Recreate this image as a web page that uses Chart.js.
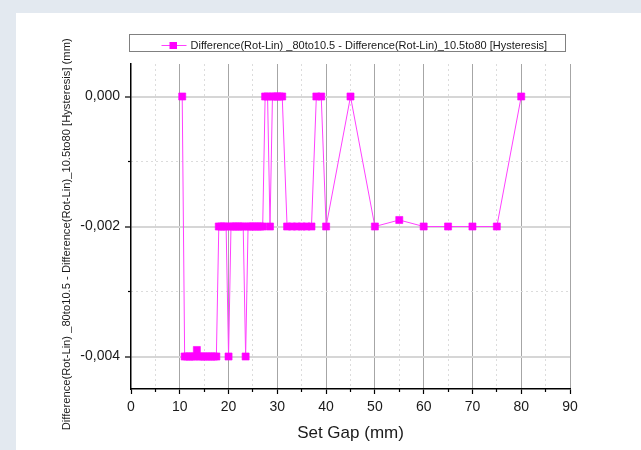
<!DOCTYPE html>
<html>
<head>
<meta charset="utf-8">
<title>Hysteresis</title>
<script src="https://cdn.jsdelivr.net/npm/chart.js@4"></script>
<style>
  html, body { margin: 0; padding: 0; background: #e3e9f0; }
  #panel { position: absolute; left: 16px; top: 13px; width: 625px; height: 437px; background: #fff; }
  canvas { display: block; }
</style>
</head>
<body>
<div id="panel"><canvas id="hyst" width="625" height="437"></canvas></div>
<script>
// set gap (mm) and hysteresis difference (mm)
const gap = [
  10.5, 11, 11.5, 12, 12.5, 13, 13.5, 14, 14.5, 15, 15.5, 16, 16.5, 17, 17.5,
  18, 18.5, 19, 19.5, 20, 20.5, 21, 21.5, 22, 22.5, 23, 23.5, 24, 24.5, 25,
  25.5, 26, 26.5, 27, 27.5, 28, 28.5, 29, 29.5, 30, 30.5, 31,
  32, 33, 34, 35, 36, 37, 38, 39, 40,
  45, 50, 55, 60, 65, 70, 75, 80
];
const hysteresis = [
  0, -0.004, -0.004, -0.004, -0.004, -0.004, -0.0039, -0.004, -0.004, -0.004, -0.004, -0.004, -0.004, -0.004, -0.004,
  -0.002, -0.002, -0.002, -0.002, -0.004, -0.002, -0.002, -0.002, -0.002, -0.002, -0.002, -0.004, -0.002, -0.002, -0.002,
  -0.002, -0.002, -0.002, -0.002, 0, 0, -0.002, 0, 0, 0, 0, 0,
  -0.002, -0.002, -0.002, -0.002, -0.002, -0.002, 0, 0, -0.002,
  0, -0.002, -0.0019, -0.002, -0.002, -0.002, -0.002, 0
];
const xMajor = [0, 10, 20, 30, 40, 50, 60, 70, 80, 90];
const xMinor = [5, 15, 25, 35, 45, 55, 65, 75, 85];
const yMajor = [-0.004, -0.002, 0];
const yMinor = [-0.003, -0.001];

const seriesLabel = 'Difference(Rot-Lin) _80to10.5 - Difference(Rot-Lin)_10.5to80 [Hysteresis]';
const yTitle = seriesLabel + ' (mm)';
const xTitle = 'Set Gap (mm)';

const FONT = "Arial, 'Liberation Sans', sans-serif";
Chart.defaults.font.family = FONT;
Chart.defaults.color = '#1a1a1a';

const fmt = v => v.toFixed(3).replace('.', ',');

// boxed legend like the Origin one: line + square marker + label
const legendBox = {
  id: 'legendBox',
  afterDraw(chart) {
    const { ctx, chartArea } = chart;
    const ds = chart.data.datasets[0];
    const left = chartArea.left - 1.5;
    const top = 21.5;
    const cy = 32.5;
    ctx.save();
    ctx.strokeStyle = '#808080';
    ctx.lineWidth = 1;
    ctx.strokeRect(left, top, chartArea.width - 3, 17);
    ctx.strokeStyle = ds.borderColor;
    ctx.beginPath();
    ctx.moveTo(left + 32, cy);
    ctx.lineTo(left + 57, cy);
    ctx.stroke();
    ctx.fillStyle = ds.pointBackgroundColor;
    ctx.fillRect(left + 40, cy - 3.5, 7.5, 7);
    ctx.fillStyle = '#1a1a1a';
    ctx.font = '11px ' + FONT;
    ctx.textBaseline = 'middle';
    ctx.fillText(ds.label, left + 61, cy);
    ctx.restore();
  }
};

new Chart(document.getElementById('hyst'), {
  type: 'scatter',
  data: {
    datasets: [{
      label: seriesLabel,
      data: gap.map((g, i) => ({ x: g, y: hysteresis[i] })),
      showLine: true,
      borderColor: '#ff40ff',
      borderWidth: 1,
      backgroundColor: '#ff00ff',
      pointStyle: 'rect',
      pointRadius: 5,
      pointBackgroundColor: '#ff00ff',
      pointBorderColor: '#ff00ff',
      pointBorderWidth: 0.6
    }]
  },
  options: {
    responsive: false,
    animation: false,
    layout: { padding: { top: 51, right: 71, left: 0, bottom: 0 } },
    plugins: {
      legend: { display: false },
      tooltip: { enabled: false }
    },
    scales: {
      x: {
        type: 'linear', axis: 'x', position: 'bottom', weight: 1,
        min: 0, max: 90,
        afterBuildTicks: s => { s.ticks = xMajor.map(v => ({ value: v })); },
        afterFit: s => { s.height = 61; },
        ticks: { font: { size: 14 }, padding: 5, autoSkip: false, maxRotation: 0 },
        grid: {
          color: c => (c.tick && c.tick.value === 0) ? 'rgba(0,0,0,0)' : '#a6a6a6',
          lineWidth: 1, tickColor: '#000', tickLength: 5, tickWidth: 1.2
        },
        border: { color: '#000', width: 1.5 },
        title: { display: true, text: xTitle, font: { size: 17 }, padding: { top: 0, bottom: 6 } }
      },
      xMinor: {
        type: 'linear', axis: 'x', position: 'bottom', weight: 0,
        min: 0, max: 90,
        afterBuildTicks: s => { s.ticks = xMinor.map(v => ({ value: v })); },
        afterFit: s => { s.height = 0; },
        ticks: { display: false },
        grid: { color: '#dcdcdc', lineWidth: 1, tickColor: '#000', tickLength: 3, tickWidth: 1.2 },
        border: { display: false, dash: [2, 3] }
      },
      y: {
        type: 'linear', axis: 'y', position: 'left', weight: 1,
        min: -0.0045, max: 0.0005,
        afterBuildTicks: s => { s.ticks = yMajor.map(v => ({ value: v })); },
        afterFit: s => { s.width = 115; },
        ticks: { font: { size: 14 }, padding: 5, callback: v => fmt(v) },
        grid: { color: '#d6d6d6', lineWidth: 2, tickColor: '#000', tickLength: 6, tickWidth: 1.2 },
        border: { color: '#000', width: 1.5 },
        // trailing spaces nudge the centred title a little lower, as in the original
        title: { display: true, text: yTitle + '     ', font: { size: 11.2 }, padding: { top: 44, bottom: 0 } }
      },
      yMinor: {
        type: 'linear', axis: 'y', position: 'left', weight: 0,
        min: -0.0045, max: 0.0005,
        afterBuildTicks: s => { s.ticks = yMinor.map(v => ({ value: v })); },
        afterFit: s => { s.width = 0; },
        ticks: { display: false },
        grid: { color: '#dcdcdc', lineWidth: 1, tickColor: '#000', tickLength: 3, tickWidth: 1.2 },
        border: { display: false, dash: [2, 3] }
      }
    }
  },
  plugins: [legendBox]
});
</script>
</body>
</html>
